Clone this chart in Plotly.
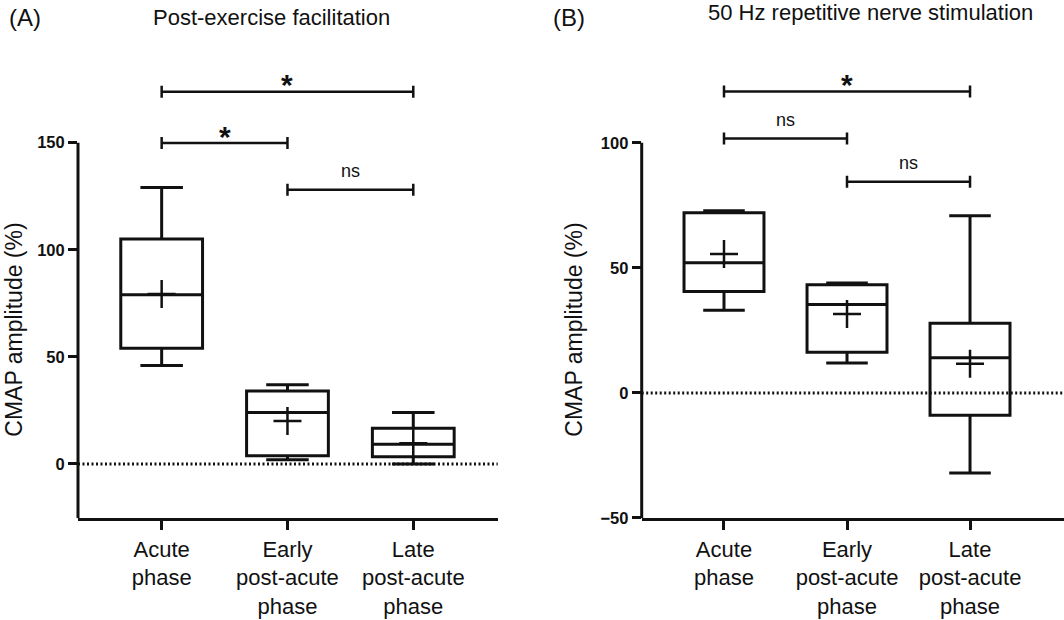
import plotly.graph_objects as go

# ---------------- data ----------------
categories = ["Acute<br>phase", "Early<br>post-acute<br>phase", "Late<br>post-acute<br>phase"]
cat_pos = [0, 1, 2]

# Panel A: Post-exercise facilitation
a_min = [46, 2, 0]
a_q1 = [54, 3.8, 3.4]
a_median = [79, 24, 9.2]
a_q3 = [105, 34, 16.6]
a_max = [129, 37, 24]
a_mean = [79.3, 20, 9.7]

# Panel B: 50 Hz repetitive nerve stimulation
b_min = [33, 12, -32]
b_q1 = [40.5, 16.3, -8.9]
b_median = [52, 35.3, 14.1]
b_q3 = [72, 43.2, 27.9]
b_max = [72.8, 43.9, 70.8]
b_mean = [55.5, 31.5, 11.7]

# significance brackets: (from, to, height, label)
a_brackets = [(0, 2, 173.7, "*"), (0, 1, 149.8, "*"), (1, 2, 128, "ns")]
b_brackets = [(0, 2, 120.5, "*"), (0, 1, 101.7, "ns"), (1, 2, 84.4, "ns")]

a_ticks = [0, 50, 100, 150]
b_ticks = [-50, 0, 50, 100]

FONT = "Liberation Sans, Arial, sans-serif"
BLACK = "#111111"

fig = go.Figure()

def add_panel(xa, ya, mins, q1, med, q3, maxs, means):
    for i, p in enumerate(cat_pos):
        fig.add_trace(go.Box(
            x=[p], q1=[q1[i]], median=[med[i]], q3=[q3[i]],
            lowerfence=[mins[i]], upperfence=[maxs[i]],
            width=0.65, whiskerwidth=0.52, boxpoints=False,
            line=dict(color=BLACK, width=3), fillcolor="white",
            xaxis=xa, yaxis=ya, showlegend=False, hoverinfo="skip"))
    fig.add_trace(go.Scatter(
        x=cat_pos, y=means, mode="markers",
        marker=dict(symbol="cross-thin", size=20, line=dict(color=BLACK, width=2.5)),
        xaxis=xa, yaxis=ya, showlegend=False, hoverinfo="skip"))

add_panel("x", "y", a_min, a_q1, a_median, a_q3, a_max, a_mean)
add_panel("x2", "y2", b_min, b_q1, b_median, b_q3, b_max, b_mean)

shapes = []
annotations = []

def panel_decor(xr, yr, brackets, ytop, ybot):
    # y axis line only up to top tick
    shapes.append(dict(type="line", xref=xr + " domain", yref=yr, x0=0, x1=0,
                       y0=ybot, y1=ytop, line=dict(color=BLACK, width=3)))
    # dotted zero line
    shapes.append(dict(type="line", xref=xr + " domain", yref=yr, x0=0, x1=1,
                       y0=0, y1=0, line=dict(color=BLACK, width=3, dash="2px,2.5px")))
    for (i0, i1, h, lab) in brackets:
        x0, x1 = cat_pos[i0], cat_pos[i1]
        shapes.append(dict(type="line", xref=xr, yref=yr, x0=x0, x1=x1, y0=h, y1=h,
                           line=dict(color=BLACK, width=2.5)))
        for xx in (x0, x1):
            shapes.append(dict(type="line", xref=xr, yref=yr, x0=xx, x1=xx,
                               ysizemode="pixel", yanchor=h, y0=-6, y1=6,
                               line=dict(color=BLACK, width=2.5)))
        if lab == "*":
            annotations.append(dict(xref=xr, yref=yr, x=(x0 + x1) / 2, y=h, text="*",
                                    showarrow=False, yanchor="middle", yshift=7,
                                    font=dict(family=FONT, size=30, color=BLACK, weight="bold")))
        else:
            annotations.append(dict(xref=xr, yref=yr, x=(x0 + x1) / 2, y=h, text=lab,
                                    showarrow=False, yanchor="middle", yshift=19,
                                    font=dict(family=FONT, size=18, color=BLACK)))

panel_decor("x", "y", a_brackets, 150, -25.35)
panel_decor("x2", "y2", b_brackets, 100, -50.12)

# titles, panel labels, axis titles
annotations += [
    dict(xref="paper", yref="paper", x=25 / 1064, y=1 - 18 / 620, text="(A)", showarrow=False,
         xanchor="center", yanchor="middle", font=dict(family=FONT, size=24, color=BLACK)),
    dict(xref="paper", yref="paper", x=569 / 1064, y=1 - 18 / 620, text="(B)", showarrow=False,
         xanchor="center", yanchor="middle", font=dict(family=FONT, size=24, color=BLACK)),
    dict(xref="paper", yref="paper", x=271.5 / 1064, y=1 - 18 / 620, text="Post-exercise facilitation",
         showarrow=False, xanchor="center", yanchor="middle",
         font=dict(family=FONT, size=22, color=BLACK)),
    dict(xref="paper", yref="paper", x=870 / 1064, y=1 - 13 / 620, text="50 Hz repetitive nerve stimulation",
         showarrow=False, xanchor="center", yanchor="middle",
         font=dict(family=FONT, size=22, color=BLACK)),
    dict(xref="paper", yref="paper", x=14 / 1064, y=1 - 334 / 620, text="CMAP amplitude (%)",
         showarrow=False, textangle=-90, xanchor="center", yanchor="middle",
         font=dict(family=FONT, size=23, color=BLACK)),
    dict(xref="paper", yref="paper", x=574 / 1064, y=1 - 334 / 620, text="CMAP amplitude (%)",
         showarrow=False, textangle=-90, xanchor="center", yanchor="middle",
         font=dict(family=FONT, size=23, color=BLACK)),
]

xaxis_common = dict(tickmode="array", tickvals=cat_pos, ticktext=categories,
                    showline=True, linecolor=BLACK, linewidth=3, ticks="outside",
                    ticklen=9, tickwidth=3, tickcolor=BLACK, showgrid=False, zeroline=False,
                    tickfont=dict(family=FONT, size=22, color=BLACK), fixedrange=True)
yaxis_common = dict(showline=False, ticks="outside", ticklen=9, tickwidth=3, tickcolor=BLACK,
                    showgrid=False, zeroline=False, tickmode="array",
                    tickfont=dict(family=FONT, size=16.5, color=BLACK, weight="bold"))

ydom = [1 - 525 / 620, 1 - 60 / 620]
fig.update_layout(
    width=1064, height=620,
    margin=dict(l=0, r=0, t=0, b=0),
    paper_bgcolor="white", plot_bgcolor="white",
    xaxis=dict(domain=[78 / 1064, 497.7 / 1064], range=[-0.665, 2.671], anchor="y", **xaxis_common),
    yaxis=dict(domain=ydom, range=[-25.35, 188.94], anchor="x", tickvals=a_ticks, **yaxis_common),
    xaxis2=dict(domain=[641.7 / 1064, 1.0], range=[-0.669, 2.764], anchor="y2", **xaxis_common),
    yaxis2=dict(domain=ydom, range=[-50.12, 133.43], anchor="x2", tickvals=b_ticks, **yaxis_common),
    shapes=shapes, annotations=annotations,
)

fig.write_html("out.html")
